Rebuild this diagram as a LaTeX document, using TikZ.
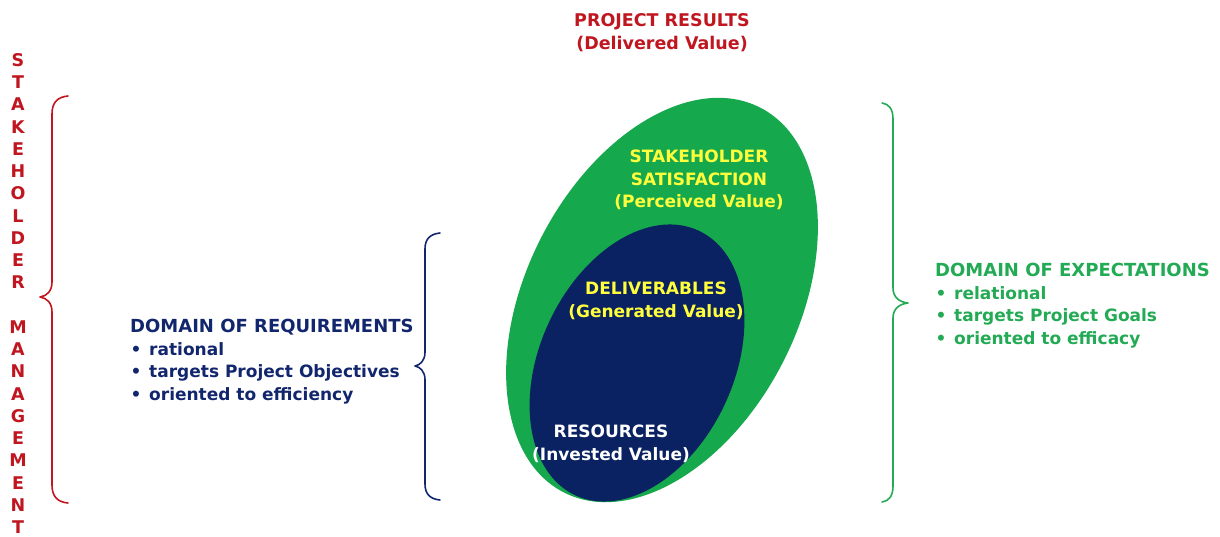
\documentclass[tikz,border=0pt]{standalone}
\usepackage{fontspec}
\setmainfont{DejaVu Sans}
\definecolor{ringgreen}{RGB}{22,168,76}
\definecolor{coreblue}{RGB}{10,34,98}
\definecolor{labelyellow}{RGB}{255,255,60}
\definecolor{mgmtred}{RGB}{192,22,32}
\definecolor{reqblue}{RGB}{18,38,110}
\definecolor{expgreen}{RGB}{34,170,84}
\tikzset{
  lbl/.style={inner sep=0pt, font=\fontsize{17}{22.5}\selectfont\bfseries, align=center},
  bracestroke/.style={line width=1.6pt, line cap=round, line join=round},
}
\newcommand{\itemline}[1]{\makebox[19pt][l]{\hspace{0.5pt}\textbullet}#1}
\newcommand{\headline}[1]{{\fontsize{18}{22.5}\selectfont #1}}
\begin{document}
\begin{tikzpicture}[x=1pt,y=-1pt]
  \useasboundingbox (0,0) rectangle (1220,536);

  % nested value ellipses
  \fill[ringgreen, shift={(662,300)}, rotate=-27] (0,0) ellipse [x radius=136, y radius=216];
  \fill[coreblue, shift={(637,363)}, rotate=-25] (0,0) ellipse [x radius=97, y radius=146];

  % title
  \node[lbl, text=mgmtred, font=\fontsize{17.5}{23.5}\selectfont\bfseries] (results) at (662,32.5) {PROJECT RESULTS\\(Delivered Value)};

  % labels inside the ellipses
  \node[lbl, text=labelyellow] (satisf) at (699,180) {STAKEHOLDER\\SATISFACTION\\(Perceived Value)};
  \node[lbl, text=labelyellow] (deliv) at (656,301) {DELIVERABLES\\(Generated Value)};
  \node[lbl, text=white] (resrc) at (611,444) {RESOURCES\\(Invested Value)};

  % vertical caption
  \node[lbl, text=mgmtred, anchor=base, font=\fontsize{17.5}{22.24}\selectfont\bfseries] (mgmt) at (18,66.5)
    {\begin{tabular}[t]{@{}c@{}}S\\T\\A\\K\\E\\H\\O\\L\\D\\E\\R\\ \\M\\A\\N\\A\\G\\E\\M\\E\\N\\T\end{tabular}};

  % braces
  \draw[bracestroke, mgmtred] (68,96) .. controls (57,97) and (52,103) .. (52,114) -- (52,282)
     .. controls (52,291) and (47,296) .. (40,297) .. controls (47,298) and (52,303) .. (52,312)
     -- (52,485) .. controls (52,496) and (57,502) .. (68,503);
  \draw[bracestroke, reqblue] (440,233) .. controls (430,234) and (425,239) .. (425,249) -- (425,352)
     .. controls (425,361) and (420,365) .. (415,366) .. controls (420,367) and (425,371) .. (425,380)
     -- (425,484) .. controls (425,494) and (430,499) .. (440,500);
  \draw[bracestroke, expgreen] (882,103) .. controls (889,104) and (893,109) .. (893,119) -- (893,288)
     .. controls (893,297) and (899,302) .. (908,303) .. controls (899,304) and (893,309) .. (893,318)
     -- (893,486) .. controls (893,496) and (889,501) .. (882,502);

  % domain descriptions
  \node[lbl, text=reqblue, anchor=base west, align=left] (req) at (130,332.5)
    {\begin{tabular}[t]{@{}l@{}}
      \headline{DOMAIN OF REQUIREMENTS}\\
      \itemline{rational}\\
      \itemline{targets Project Objectives}\\
      \itemline{oriented to efficiency}
    \end{tabular}};
  \node[lbl, text=expgreen, anchor=base west, align=left] (exp) at (935,276.5)
    {\begin{tabular}[t]{@{}l@{}}
      \headline{DOMAIN OF EXPECTATIONS}\\
      \itemline{relational}\\
      \itemline{targets Project Goals}\\
      \itemline{oriented to efficacy}
    \end{tabular}};
\end{tikzpicture}
\end{document}
